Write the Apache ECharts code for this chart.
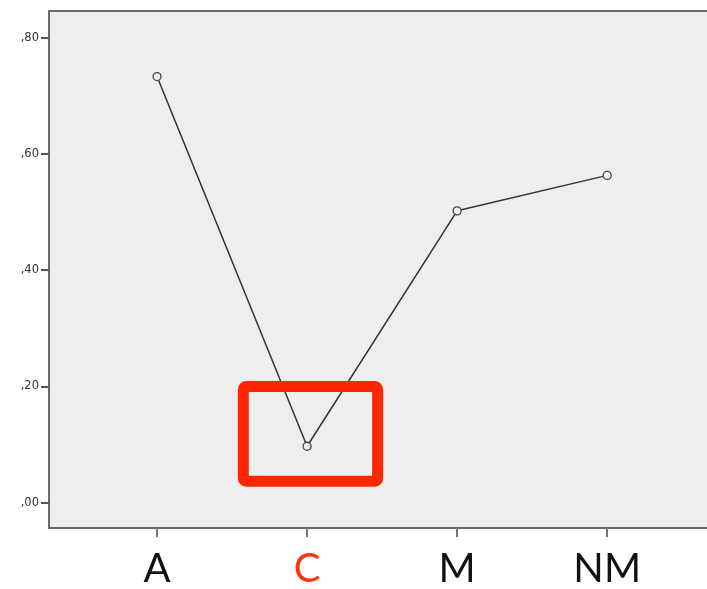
<!DOCTYPE html>
<html>
<head>
<meta charset="utf-8">
<script src="https://cdn.jsdelivr.net/npm/echarts@6/dist/echarts.min.js"></script>
<style>
html,body{margin:0;padding:0;background:#fff;}
#c{width:707px;height:589px;}
</style>
</head>
<body>
<div id="c"></div>
<script>
var categories = ['A', 'C', 'M', 'NM'];
var values = [0.733, 0.097, 0.502, 0.563];
var yTicks = [0, 0.2, 0.4, 0.6, 0.8];
var highlightCategory = 'C';

var chart = echarts.init(document.getElementById('c'));
var xIdx = categories.map(function (c, i) { return i; });
var seriesData = values.map(function (v, i) { return [i, v]; });
var axisCol = '#6a6a6a';

chart.setOption({
  animation: false,
  grid: {
    left: 49, top: 11, right: 0, bottom: 58,
    show: true, backgroundColor: '#eeeeee', borderWidth: 0
  },
  xAxis: [{
    type: 'value', min: -0.72, max: 3.665, position: 'bottom',
    splitLine: { show: false },
    axisLine: { show: true, onZero: false, lineStyle: { color: axisCol, width: 2 } },
    axisTick: { show: true, customValues: xIdx, length: 9, lineStyle: { color: '#777', width: 2 } },
    axisLabel: {
      customValues: xIdx, margin: 21,
      formatter: function (v) {
        var c = categories[Math.round(v)];
        return c === highlightCategory ? '{h|' + c + '}' : c;
      },
      fontFamily: 'Lato', fontWeight: 'normal', fontSize: 40, color: '#111',
      rich: { h: { fontFamily: 'Lato', fontWeight: 'normal', fontSize: 40, color: '#ff3311' } }
    }
  }, {
    type: 'value', min: -0.72, max: 3.665, position: 'top',
    splitLine: { show: false }, axisTick: { show: false }, axisLabel: { show: false },
    axisLine: { show: true, onZero: false, lineStyle: { color: axisCol, width: 2 } }
  }],
  yAxis: {
    type: 'value', min: -0.0436, max: 0.8458,
    splitLine: { show: false },
    axisLine: { show: true, onZero: false, lineStyle: { color: axisCol, width: 2 } },
    axisTick: { show: true, customValues: yTicks, length: 8, lineStyle: { color: '#555', width: 2 } },
    axisLabel: {
      customValues: yTicks, margin: 10,
      formatter: function (v) { return ',' + (Math.round(v * 100) + '').padStart(2, '0'); },
      fontFamily: 'DejaVu Sans', fontSize: 11.5, color: '#333'
    }
  },
  series: [{
    type: 'line',
    xAxisIndex: 0,
    data: seriesData,
    symbol: 'circle',
    symbolSize: 8,
    lineStyle: { color: '#333', width: 1.5 },
    itemStyle: { color: '#eeeeee', borderColor: '#444', borderWidth: 1.3 }
  }]
});

// red annotation box around the highlighted point
var hi = categories.indexOf(highlightCategory);
var p0 = chart.convertToPixel({ xAxisIndex: 0, yAxisIndex: 0 }, [hi - 0.425, 0.2]);
var p1 = chart.convertToPixel({ xAxisIndex: 0, yAxisIndex: 0 }, [hi + 0.47, 0.037]);
chart.setOption({
  graphic: [{
    type: 'rect',
    shape: { x: p0[0], y: p0[1], width: p1[0] - p0[0], height: p1[1] - p0[1], r: 3 },
    style: { fill: 'none', stroke: '#ff2600', lineWidth: 11 },
    z: 100
  }]
});
</script>
</body>
</html>
